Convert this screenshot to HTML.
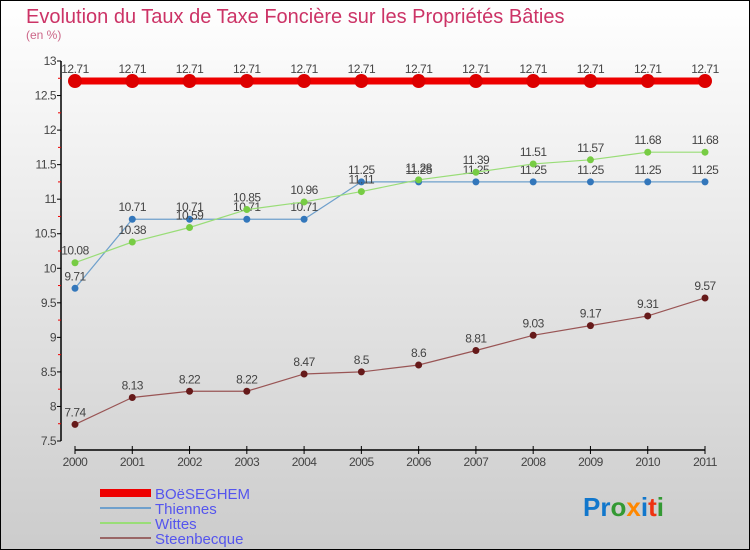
<!DOCTYPE html>
<html><head><meta charset="utf-8"><style>
html,body{margin:0;padding:0}
body{width:750px;height:550px;overflow:hidden;font-family:"Liberation Sans",sans-serif}
</style></head><body>
<svg width="750" height="550" viewBox="0 0 750 550" style="display:block">
<defs><linearGradient id="bg" x1="0" y1="0" x2="0" y2="1"><stop offset="0" stop-color="#ffffff"/><stop offset="1" stop-color="#cccccc"/></linearGradient></defs>
<rect x="0.5" y="0.5" width="749" height="549" fill="url(#bg)" stroke="#000"/>
<text x="26" y="23" font-size="20" fill="#cc3366">Evolution du Taux de Taxe Foncière sur les Propriétés Bâties</text>
<text x="26" y="39" font-size="12" fill="#cc6688">(en %)</text>
<g id="axes"></g><g id="series"></g>
<g>
<rect x="100" y="489" width="51" height="8" fill="#ee0000"/>
<text x="155" y="499" font-size="15" fill="#5555ee">BOëSEGHEM</text>
<rect x="100" y="507" width="51" height="2" fill="#6fa0cc"/>
<text x="155" y="514" font-size="15" fill="#5555ee">Thiennes</text>
<rect x="100" y="522" width="51" height="2" fill="#99dd77"/>
<text x="155" y="529" font-size="15" fill="#5555ee">Wittes</text>
<rect x="100" y="537" width="51" height="2" fill="#996666"/>
<text x="155" y="544" font-size="15" fill="#5555ee">Steenbecque</text>
</g>
<text x="583" y="516" font-size="26" font-weight="bold"><tspan fill="#1177cc">Pr</tspan><tspan fill="#339933">o</tspan><tspan fill="#ff8800">x</tspan><tspan fill="#1177cc">i</tspan><tspan fill="#ee3311">t</tspan><tspan fill="#339933">i</tspan></text>
</svg>
<script>
const years=["2000","2001","2002","2003","2004","2005","2006","2007","2008","2009","2010","2011"];
const boeseghem=[12.71,12.71,12.71,12.71,12.71,12.71,12.71,12.71,12.71,12.71,12.71,12.71];
const thiennes=[9.71,10.71,10.71,10.71,10.71,11.25,11.25,11.25,11.25,11.25,11.25,11.25];
const wittes=[10.08,10.38,10.59,10.85,10.96,11.11,11.28,11.39,11.51,11.57,11.68,11.68];
const steenbecque=[7.74,8.13,8.22,8.22,8.47,8.5,8.6,8.81,9.03,9.17,9.31,9.57];
const yTicks=[7.5,8,8.5,9,9.5,10,10.5,11,11.5,12,12.5,13];
const NS="http://www.w3.org/2000/svg";
const X=i=>75+i*(630/(years.length-1));
const Y=v=>61+(13-v)*(380/5.5);
function mk(t,a,p){const e=document.createElementNS(NS,t);for(const k in a)e.setAttribute(k,a[k]);p.appendChild(e);return e;}
const ax=document.getElementById('axes');
let l=mk('line',{x1:61,y1:61,x2:61,y2:441,stroke:'#000','stroke-width':1.5},ax);


l=mk('line',{x1:75,y1:450,x2:705,y2:450,stroke:'#000','stroke-width':1.5},ax);


yTicks.forEach(v=>{const y=Y(v);
 mk('line',{x1:57,y1:y,x2:61,y2:y,stroke:'#000'},ax);
 if(v<13) mk('line',{x1:58,y1:Y(v+0.25),x2:61,y2:Y(v+0.25),stroke:'#ee0000'},ax);
 const t=mk('text',{x:56,y:y+4,'font-size':12,fill:'#444','text-anchor':'end','letter-spacing':'-0.5'},ax);t.textContent=String(v);
 
 
});
years.forEach((yr,i)=>{const x=X(i);
 mk('line',{x1:x,y1:446,x2:x,y2:454,stroke:'#000'},ax);
 const t=mk('text',{x:x,y:466,'font-size':12,fill:'#444','text-anchor':'middle','letter-spacing':'-0.5'},ax);t.textContent=yr;
 
 
});
const sg=document.getElementById('series');
function draw(name,vals,line,dot,w,r){
 const g=mk('g',{},sg);
 
 
 const pl=mk('polyline',{points:vals.map((v,i)=>X(i)+','+Y(v)).join(' '),fill:'none',stroke:line,'stroke-width':w},g);
 
 
 vals.forEach((v,i)=>{
  const c=mk('circle',{cx:X(i),cy:Y(v),r:r,fill:dot},g);
  
  
  const t=mk('text',{x:X(i),y:Y(v)-8,'font-size':12,fill:'#444','text-anchor':'middle','letter-spacing':'-0.5'},g);
  t.textContent=String(v);
  
  
 });
}
draw('steenbecque',steenbecque,'#995555','#661a1a',1.2,3.5);
draw('thiennes',thiennes,'#6fa0cc','#3377bb',1.2,3.5);
draw('wittes',wittes,'#99dd77','#77cc44',1.2,3.5);
draw('boeseghem',boeseghem,'#ee0000','#dd0000',7,7);
</script>
</body></html>
